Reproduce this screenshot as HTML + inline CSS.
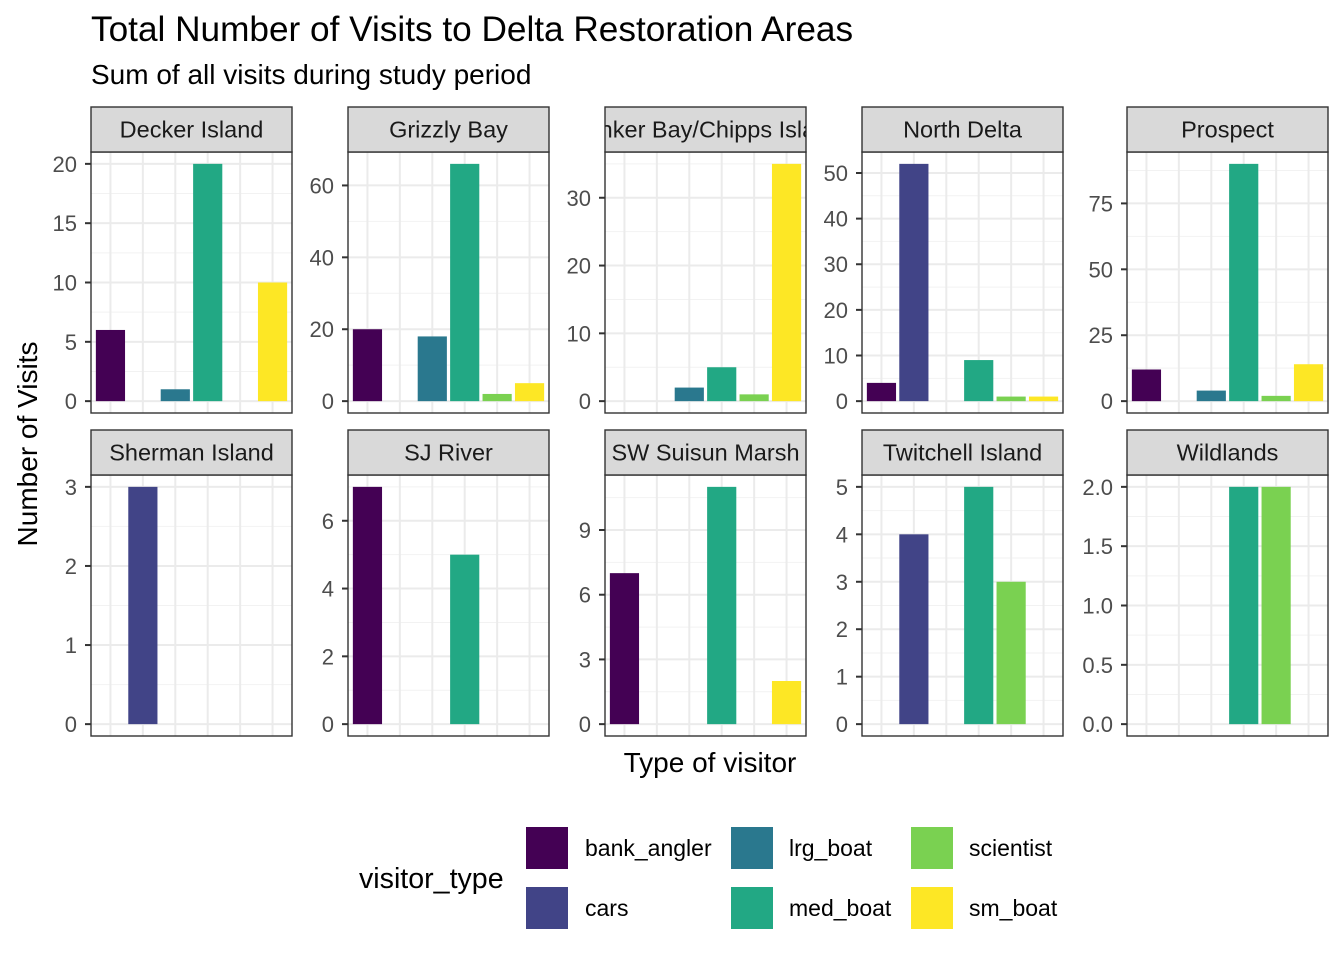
<!DOCTYPE html>
<html><head><meta charset="utf-8"><style>
body{margin:0;background:#fff}
svg{display:block;font-family:"Liberation Sans",sans-serif}
</style></head><body>
<svg id="chart" width="1344" height="960" viewBox="0 0 1344 960">
<text x="91" y="41" font-size="35.2" fill="#000">Total Number of Visits to Delta Restoration Areas</text>
<text x="91" y="84" font-size="28" fill="#000">Sum of all visits during study period</text>
<text transform="translate(37,444) rotate(-90)" text-anchor="middle" font-size="28">Number of Visits</text>
<text x="710" y="772" text-anchor="middle" font-size="28">Type of visitor</text>
<g id="panels"></g>
<g id="legend">
<text x="359" y="888" font-size="28.6">visitor_type</text>
</g>
</svg>
<script>
const categories = ["bank_angler","cars","lrg_boat","med_boat","scientist","sm_boat"];
const colors = ["#440154","#414487","#2A788E","#22A884","#7AD151","#FDE725"];
const facetNames = ["Decker Island","Grizzly Bay","Honker Bay/Chipps Island","North Delta","Prospect","Sherman Island","SJ River","SW Suisun Marsh","Twitchell Island","Wildlands"];
const deckerIsland = [6,0,1,20,0,10];
const grizzlyBay = [20,0,18,66,2,5];
const honkerChipps = [0,0,2,5,1,35];
const northDelta = [4,52,0,9,1,1];
const prospect = [12,0,4,90,2,14];
const shermanIsland = [0,3,0,0,0,0];
const sjRiver = [7,0,0,5,0,0];
const swSuisun = [7,0,0,11,0,2];
const twitchell = [0,4,0,5,3,0];
const wildlands = [0,0,0,2,2,0];
const facetValues = [deckerIsland,grizzlyBay,honkerChipps,northDelta,prospect,shermanIsland,sjRiver,swSuisun,twitchell,wildlands];
const tickLabels = [[0,5,10,15,20],[0,20,40,60],[0,10,20,30],[0,10,20,30,40,50],[0,25,50,75],[0,1,2,3],[0,2,4,6],[0,3,6,9],[0,1,2,3,4,5],[0,0.5,1,1.5,2]];

const NS="http://www.w3.org/2000/svg";
function mk(t,a,p){const e=document.createElementNS(NS,t);for(const k in a)e.setAttribute(k,a[k]);p.appendChild(e);return e;}
const colX=[91,348,605,862,1127], PW=201;
const rowTop=[152,475], PH=261, stripH=45;
const root=document.getElementById('panels');
facetValues.forEach((vals,i)=>{
  const r=Math.floor(i/5), c=i%5, x0=colX[c], y0=rowTop[r];
  const g=mk('g',{},root);
  
  
  const ticks=tickLabels[i];
  const maxV=Math.max(...vals);
  const lo=-0.05*maxV, hi=maxV*1.05;
  const ys=v=>y0+PH-(v-lo)/(hi-lo)*PH;
  const xs=k=>x0+(k+1-0.4)/6.2*PW;
  const bw=0.9/6.2*PW;
  mk('rect',{x:x0,y:y0,width:PW,height:PH,fill:'#fff'},g);
  const step=ticks[1]-ticks[0];
  for(let t=ticks[0]-step/2;t<=hi;t+=step){ if(t<lo)continue; mk('line',{x1:x0,x2:x0+PW,y1:ys(t),y2:ys(t),stroke:'#F2F2F2','stroke-width':1},g);}
  ticks.forEach(t=>mk('line',{x1:x0,x2:x0+PW,y1:ys(t),y2:ys(t),stroke:'#EBEBEB','stroke-width':2},g));
  categories.forEach((c2,k)=>mk('line',{x1:xs(k),x2:xs(k),y1:y0,y2:y0+PH,stroke:'#EBEBEB','stroke-width':2},g));
  vals.forEach((v,k)=>{ if(v<=0)return;
    const b=mk('rect',{x:xs(k)-bw/2,y:ys(v),width:bw,height:ys(0)-ys(v),fill:colors[k]},g);
    
    
  });
  mk('rect',{x:x0,y:y0,width:PW,height:PH,fill:'none',stroke:'#333','stroke-width':1.4},g);
  ticks.forEach(t=>{
    mk('line',{x1:x0-6,x2:x0,y1:ys(t),y2:ys(t),stroke:'#333','stroke-width':2},g);
    const tx=mk('text',{x:x0-14,y:ys(t)+8,'text-anchor':'end','font-size':22,fill:'#4D4D4D'},g);
    tx.textContent=(i===9)?t.toFixed(1):String(t);
    
    
  });
  const cp=mk('clipPath',{id:'cp'+i},g);
  mk('rect',{x:x0,y:y0-stripH,width:PW,height:stripH},cp);
  const st=mk('rect',{x:x0,y:y0-stripH,width:PW,height:stripH,fill:'#D9D9D9',stroke:'#333','stroke-width':1.4},g);
  
  
  const lbl=mk('text',{x:x0+PW/2,y:y0-stripH/2+8,'text-anchor':'middle','font-size':23.5,fill:'#1A1A1A','clip-path':'url(#cp'+i+')'},g);
  lbl.textContent=facetNames[i];
  
  
});
const lg=document.getElementById('legend');
const lx=[526,731,911], ly=[827,887], tx=[585,789,969];
categories.forEach((c,k)=>{
  const col=Math.floor(k/2), row=k%2;
  const r=mk('rect',{x:lx[col],y:ly[row],width:42,height:42,fill:colors[k]},lg);
  
  
  const t=mk('text',{x:tx[col],y:ly[row]+29,'font-size':23,fill:'#000'},lg);
  t.textContent=c;
  
  
});
</script>
</body></html>
